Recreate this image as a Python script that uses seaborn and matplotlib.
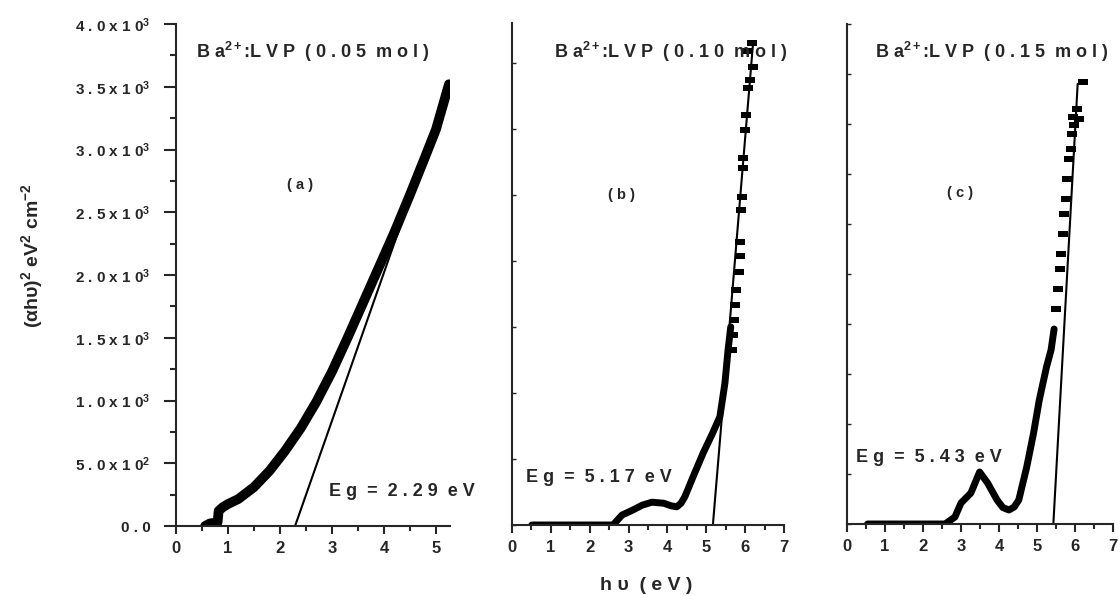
import numpy as np
import pandas as pd
import seaborn as sns
import matplotlib.pyplot as plt
from matplotlib.ticker import MultipleLocator, FuncFormatter

# panel (a): 0.05 mol
a_hv = [0.56, 0.65, 0.80, 0.82, 0.90, 1.0, 1.2, 1.5, 1.8, 2.1, 2.4, 2.7, 3.0, 3.3,
        3.6, 3.9, 4.2, 4.5, 4.8, 5.0, 5.25]
a_val = [0, 20, 30, 120, 150, 175, 215, 310, 440, 600, 780, 990, 1230, 1500,
         1780, 2060, 2340, 2640, 2950, 3160, 3520]
a_fit_hv = [2.29, 5.22]
a_fit_val = [0, 3460]

# panel (b): 0.10 mol (dense part + sparse points)
b_hv = [0.51, 2.6, 2.83, 3.12, 3.35, 3.6, 3.9, 4.1, 4.24, 4.35, 4.45, 4.66, 4.92,
        5.17, 5.35, 5.48, 5.56, 5.63]
b_val = [0, 0, 150, 230, 300, 345, 330, 290, 275, 330, 430, 730, 1090,
         1400, 1640, 2150, 2650, 3000]
b_pts_hv = [5.66, 5.69, 5.72, 5.74, 5.77, 5.84, 5.87, 5.87, 5.89, 5.92, 5.94, 5.94,
            6.00, 6.02, 6.07, 6.12, 6.20, 6.07, 6.18]
b_pts_val = [2650, 2880, 3110, 3330, 3560, 3830, 4080, 4290, 4770, 4970, 5410, 5560,
             5980, 6210, 6610, 6740, 6940, 7170, 7300]
b_fit_hv = [5.17, 6.20]
b_fit_val = [0, 7270]

# panel (c): 0.15 mol
c_hv = [0.54, 2.58, 2.84, 3.0, 3.26, 3.49, 3.7, 3.95, 4.1, 4.26, 4.4, 4.52, 4.73,
        4.91, 5.06, 5.25, 5.37, 5.45]
c_val = [0, 0, 140, 420, 620, 1040, 820, 480, 330, 280, 340, 480, 1140,
         1820, 2480, 3140, 3480, 3900]
c_pts_hv = [5.50, 5.55, 5.60, 5.63, 5.68, 5.72, 5.76, 5.80, 5.85, 5.89, 5.92, 5.94,
            5.97, 6.05, 6.10, 6.22]
c_pts_val = [4300, 4700, 5100, 5400, 5800, 6200, 6500, 6900, 7300, 7500, 7800, 8140,
             7980, 8300, 8100, 8840]
c_fit_hv = [5.43, 6.07]
c_fit_val = [0, 8800]

a_ticks = [0, 500, 1000, 1500, 2000, 2500, 3000, 3500, 4000]

sns.set_theme(style="ticks")
plt.rcParams['font.family'] = ['Liberation Sans', 'DejaVu Sans']
plt.rcParams['font.weight'] = 'bold'
plt.rcParams['mathtext.fontset'] = 'custom'
plt.rcParams['mathtext.rm'] = 'Liberation Sans:bold'
plt.rcParams['mathtext.it'] = 'Liberation Sans:bold'
plt.rcParams['mathtext.bf'] = 'Liberation Sans:bold'

fig = plt.figure(figsize=(11.2, 5.96), dpi=100)
ax_a = fig.add_axes([176 / 1120, 70 / 596, 274 / 1120, 502 / 596])
ax_b = fig.add_axes([512 / 1120, 71 / 596, 272 / 1120, 502 / 596])
ax_c = fig.add_axes([847 / 1120, 72 / 596, 266 / 1120, 500 / 596])

rect = [(-1, -0.6), (1, -0.6), (1, 0.6), (-1, 0.6)]

# (a)
sns.lineplot(x=a_hv, y=a_val, ax=ax_a, color='black', lw=7, sort=False, estimator=None)
sns.lineplot(x=a_fit_hv, y=a_fit_val, ax=ax_a, color='black', lw=1.5)

# (b)
sns.lineplot(x=b_hv, y=b_val, ax=ax_b, color='black', lw=5, sort=False, estimator=None)
sns.scatterplot(x=b_pts_hv, y=b_pts_val, ax=ax_b, color='black', marker=rect, s=55,
                linewidth=0)
sns.lineplot(x=b_fit_hv, y=b_fit_val, ax=ax_b, color='black', lw=1.5)

# (c)
sns.lineplot(x=c_hv, y=c_val, ax=ax_c, color='black', lw=5, sort=False, estimator=None)
sns.scatterplot(x=c_pts_hv, y=c_pts_val, ax=ax_c, color='black', marker=rect, s=55,
                linewidth=0)
sns.lineplot(x=c_fit_hv, y=c_fit_val, ax=ax_c, color='black', lw=1.5)

for ax in (ax_a, ax_b, ax_c):
    sns.despine(ax=ax)
    ax.spines['left'].set_linewidth(1.5)
    ax.spines['bottom'].set_linewidth(1.5)
    ax.set_xlabel('')
    ax.set_ylabel('')
    ax.xaxis.set_major_locator(MultipleLocator(1))
    ax.xaxis.set_minor_locator(MultipleLocator(0.5))
    ax.tick_params(axis='x', which='major', direction='out', length=6, width=1.5,
                   labelsize=12, pad=5)
    ax.tick_params(axis='x', which='minor', direction='out', length=3.5, width=1.5)
    for lab in ax.get_xticklabels():
        lab.set_fontweight('bold')

ax_a.set_xlim(0, 5.27)
ax_a.set_ylim(0, 4000)
ax_a.set_yticks(a_ticks)
ax_a.yaxis.set_minor_locator(MultipleLocator(250))


def sci_fmt(v, pos):
    if v == 0:
        return '0 . 0'
    e = int(np.floor(np.log10(v)))
    m = v / 10 ** e
    return '%s . %s x 1 0$^{%d}$' % (str(m)[0], str(m)[2], e)


ax_a.yaxis.set_major_formatter(FuncFormatter(sci_fmt))
ax_a.tick_params(axis='y', which='major', direction='out', length=8.5, width=1.5,
                 labelsize=11, pad=10)
ax_a.tick_params(axis='y', which='minor', direction='out', length=4, width=1.5)

ax_b.set_xlim(0, 7)
ax_b.set_ylim(0, 7600)
ax_b.yaxis.set_major_locator(MultipleLocator(1000))
ax_b.tick_params(axis='y', direction='in', length=3, width=1, labelleft=False)

ax_c.set_xlim(0, 7)
ax_c.set_ylim(0, 10000)
ax_c.yaxis.set_major_locator(MultipleLocator(1000))
ax_c.tick_params(axis='y', direction='in', length=3, width=1, labelleft=False)

title_kw = dict(fontsize=13, fontweight='bold', ha='center', va='center')
ax_a.text(2.63, 3777, 'B a$^{2+}$:L V P  ( 0 . 0 5  m o l )', **title_kw)
ax_b.text(4.09, 7167, 'B a$^{2+}$:L V P  ( 0 . 1 0  m o l )', **title_kw)
ax_c.text(3.80, 9440, 'B a$^{2+}$:L V P  ( 0 . 1 5  m o l )', **title_kw)

ax_a.text(2.38, 2717, '( a )', fontsize=10.5, fontweight='bold', ha='center', va='center')
ax_b.text(2.83, 5000, '( b )', fontsize=10.5, fontweight='bold', ha='center', va='center')
ax_c.text(2.97, 6620, '( c )', fontsize=10.5, fontweight='bold', ha='center', va='center')

eg_kw = dict(fontsize=13, fontweight='bold', ha='left', va='center')
ax_a.text(2.94, 271, 'E g  =  2 . 2 9  e V', **eg_kw)
ax_b.text(0.36, 712, 'E g  =  5 . 1 7  e V', **eg_kw)
ax_c.text(0.23, 1340, 'E g  =  5 . 4 3  e V', **eg_kw)

fig.text(646 / 1120, 1 - 585 / 596, 'h υ  ( e V )', fontsize=14, fontweight='bold',
         ha='center', va='center')
fig.text(32 / 1120, 1 - 256 / 596, '(αhυ)$^{2}$ eV$^{2}$ cm$^{-2}$', fontsize=14,
         fontweight='bold', rotation=90, ha='center', va='center')

fig.savefig('out.png', dpi=100)
